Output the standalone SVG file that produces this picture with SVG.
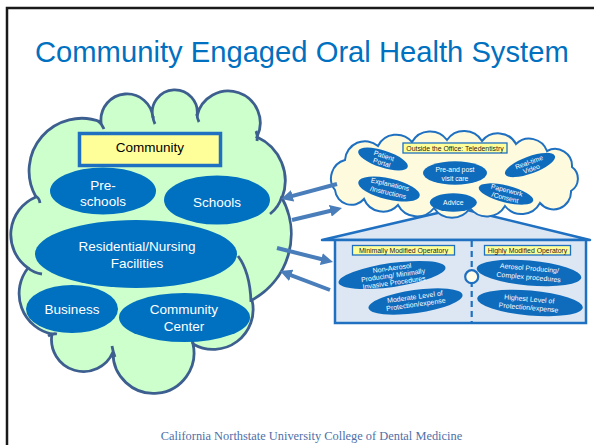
<svg xmlns="http://www.w3.org/2000/svg" width="594" height="445" viewBox="0 0 594 445">
<style>
.title{font-family:"Liberation Sans",Arial,sans-serif;font-size:29.2px;fill:#0070c0}
.foot{font-family:"Liberation Serif","Times New Roman",serif;font-size:12.4px;fill:#4f6fa8}
.big{fill:#0070c0}
.bt{font-family:"Liberation Sans",Arial,sans-serif;font-size:13.5px;fill:#fff;text-anchor:middle}
.lab{font-family:"Liberation Sans",Arial,sans-serif;font-size:13.5px;fill:#000;text-anchor:middle}
.sm{fill:#0f6cbd}
.st{font-family:"Liberation Sans",Arial,sans-serif;font-size:6.8px;fill:#fff;text-anchor:middle}
.ht{font-family:"Liberation Sans",Arial,sans-serif;font-size:7px;fill:#fff;text-anchor:middle}
.ybox{fill:#ffff99;stroke:#1f70c1;stroke-width:1.3}
.yt{font-family:"Liberation Sans",Arial,sans-serif;font-size:6.9px;fill:#222;text-anchor:middle}
.arr{stroke:#4a7ebb;stroke-width:4;fill:none;marker-end:url(#ah)}
</style>
<defs>
<marker id="ah" viewBox="0 0 10 10" refX="4" refY="5" markerWidth="3" markerHeight="3" orient="auto">
<path d="M0,0 L10,5 L0,10 z" fill="#4a7ebb"/>
</marker>
</defs>
<rect width="594" height="445" fill="#fff"/>
<path d="M7,445 V8 H594" fill="none" stroke="#1a1a1a" stroke-width="2.5"/>
<text class="title" x="35" y="62">Community Engaged Oral Health System</text>

<g id="community">
<path d="M36,197 A52.6,52.6 0 0 1 101,122 A26,26 0 1 1 153,118 A22.5,22.5 0 1 1 197,116 A32,32 0 1 1 257,137 A48,48 0 0 1 282,198 A75,75 0 0 1 252,300 A40,40 0 0 1 193,344 A40.5,40.5 0 1 1 113,352 A32,32 0 0 1 52,334 A41.3,41.3 0 0 1 28,268 A40.8,40.8 0 0 1 36,197 Z" fill="#ccffcc" stroke="#3d5f8f" stroke-width="2.8"/>
<g fill="none" stroke="#3d5f8f" stroke-width="2.8">
<path d="M35,196 Q39,197 40,203"/>
<path d="M28,268 Q34,273 42,274"/>
<path d="M48,336 Q53,333 57,334"/>
<path d="M115,357 Q113,352 112,346"/>
<path d="M193,344 Q193,341 192,337"/>
<path d="M238,256 Q250,272 251,302"/>
<path d="M282,196 Q279,207 270,214"/>
<path d="M256,131 Q258,135 257,141"/>
<path d="M197,114 Q197,118 199,122"/>
<path d="M153,116 Q153,120 155,124"/>
<path d="M98,121 Q102,124 104,129"/>
</g>
<rect x="79.5" y="133.5" width="141" height="32" fill="#ffff99" stroke="#1f70c1" stroke-width="3.5"/>
<text class="lab" x="150" y="152">Community</text>
</g>
<g id="preschools"><ellipse class="big" cx="103" cy="191" rx="53" ry="23.5"/><text class="bt" x="103" y="190">Pre-</text><text class="bt" x="103" y="206">schools</text></g>
<g id="schools"><ellipse class="big" cx="217" cy="200" rx="53" ry="24.5"/><text class="bt" x="217" y="207">Schools</text></g>
<g id="residential"><ellipse class="big" cx="136" cy="254" rx="101" ry="34"/><text class="bt" x="137" y="251">Residential/Nursing</text><text class="bt" x="137" y="268">Facilities</text></g>
<g id="business"><ellipse class="big" cx="72" cy="309" rx="46" ry="24"/><text class="bt" x="72" y="314">Business</text></g>
<g id="communitycenter"><ellipse class="big" cx="184.5" cy="317.5" rx="65.5" ry="24.5"/><text class="bt" x="184" y="314">Community</text><text class="bt" x="184" y="330.5">Center</text></g>

<g id="house">
<path d="M322,240 L459,208 L590,240 Z" fill="#dde7f3" stroke="#1f70c1" stroke-width="2.5" stroke-linejoin="round"/>
<rect x="335" y="240" width="251" height="83" fill="#dde7f3" stroke="#1f70c1" stroke-width="2.5"/>
<line x1="471.7" y1="241" x2="471.7" y2="322" stroke="#1f70c1" stroke-width="2.2" stroke-dasharray="6,4"/>
<circle cx="471.7" cy="276.7" r="6.5" fill="#fffde8" stroke="#1f70c1" stroke-width="2.2"/>
<rect class="ybox" x="352.5" y="245.5" width="102" height="9.5"/>
<text class="yt" x="403.5" y="252.7">Minimally Modified Operatory</text>
<rect class="ybox" x="484.5" y="245.5" width="86" height="9.5"/>
<text class="yt" x="527.5" y="252.7">Highly Modified Operatory</text>
</g>
<g id="nonaerosol" transform="rotate(-8 392 275)"><ellipse class="sm" cx="392" cy="275" rx="54" ry="12"/><text class="ht" x="393" y="270.5">Non-Aerosol</text><text class="ht" x="393" y="277.8">Producing/ Minimally</text><text class="ht" x="393" y="285.1">Invasive Procedures</text></g>
<g id="moderate" transform="rotate(-8 415.5 301.5)"><ellipse class="sm" cx="415.5" cy="301.5" rx="47.5" ry="11.5"/><text class="ht" x="415.5" y="299.2">Moderate Level of</text><text class="ht" x="415.5" y="306.8">Protection/expense</text></g>
<g id="aerosol" transform="rotate(5 529 273)"><ellipse class="sm" cx="529" cy="273" rx="52.5" ry="12.5"/><text class="ht" x="529" y="270.5">Aerosol Producing/</text><text class="ht" x="529" y="279.5">Complex procedures</text></g>
<g id="highest" transform="rotate(5 530 303)"><ellipse class="sm" cx="530" cy="303" rx="53" ry="12.5"/><text class="ht" x="529" y="301.5">Highest Level of</text><text class="ht" x="529" y="310">Protection/expense</text></g>

<g id="teledentistry">
<path d="M335,190 A19,19 0 0 1 345,160 A20,20 0 0 1 378,146 A20.5,20.5 0 0 1 412,142 A21,21 0 0 1 447,140 A21,21 0 0 1 482,141 A20.5,20.5 0 0 1 516,144 A19,19 0 0 1 547,151 A17,17 0 0 1 572,167 A14.5,14.5 0 0 1 571,191 A17.5,17.5 0 0 1 540,203 A21,21 0 0 1 505,206 A21,21 0 0 1 470,208 A21.5,21.5 0 0 1 434,208 A21.5,21.5 0 0 1 398,205 A20.5,20.5 0 0 1 364,199 A16.5,16.5 0 0 1 335,190 Z" fill="#fdfade" stroke="#1f70c1" stroke-width="2"/>
<rect class="ybox" x="403" y="143" width="104" height="10"/>
<text class="yt" x="455" y="150.6">Outside the Office: Teledentistry</text>
</g>
<g id="portal" transform="rotate(18 383 159)"><ellipse class="sm" cx="383" cy="159" rx="26" ry="8.5"/><text class="st" x="383" y="158">Patient</text><text class="st" x="383" y="165.3">Portal</text></g>
<g id="prepost"><ellipse class="sm" cx="455" cy="173" rx="32" ry="11.7"/><text class="st" x="455" y="172.4">Pre-and post</text><text class="st" x="455" y="180.7">visit care</text></g>
<g id="realtime" transform="rotate(-20 530 165)"><ellipse class="sm" cx="530" cy="165" rx="26.5" ry="8.6"/><text class="st" x="530" y="164.5">Real-time</text><text class="st" x="530" y="171.5">Video</text></g>
<g id="explanations" transform="rotate(13 389 189)"><ellipse class="sm" cx="389" cy="189" rx="31.5" ry="10.6"/><text class="st" x="389" y="186.5">Explanations</text><text class="st" x="389" y="195">/Instructions</text></g>
<g id="advice"><ellipse class="sm" cx="453.3" cy="202.5" rx="23.5" ry="9.3"/><text class="st" x="453.3" y="205">Advice</text></g>
<g id="paperwork" transform="rotate(14 506 194)"><ellipse class="sm" cx="506" cy="194" rx="28" ry="8.5"/><text class="st" x="506" y="192.5">Paperwork</text><text class="st" x="506" y="200">/Consent</text></g>

<g id="connectors">
<path class="arr" d="M337,184 L288,197.1"/>
<path class="arr" d="M292,220 L335,209.7"/>
<path class="arr" d="M277,248 L326,260.3"/>
<path class="arr" d="M330,290 L286.7,273.6"/>
</g>

<text class="foot" x="311.5" y="440" text-anchor="middle">California Northstate University College of Dental Medicine</text>
</svg>
